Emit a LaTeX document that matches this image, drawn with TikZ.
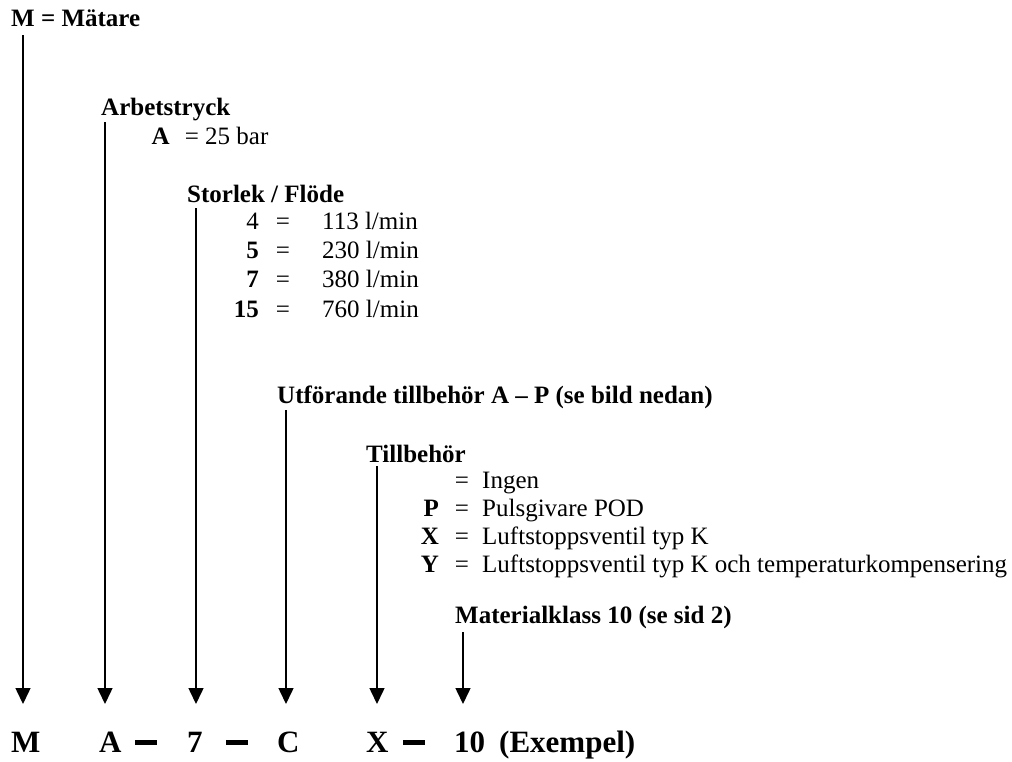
\documentclass[tikz,border=0pt]{standalone}
\usepackage{fontspec}
\setmainfont{Liberation Serif}
\usetikzlibrary{arrows.meta}

\begin{document}
\begin{tikzpicture}[x=1pt,y=-1pt,
    txt/.style={inner sep=0pt,anchor=base west,font=\fontsize{25}{30}\selectfont},
    head/.style={txt,font=\fontsize{25}{30}\selectfont\bfseries},
    key/.style={txt,anchor=base east,font=\fontsize{25}{30}\selectfont\bfseries},
    eq/.style={txt,anchor=base},
    code/.style={inner sep=0pt,anchor=base west,font=\fontsize{31}{36}\selectfont\bfseries},
    arr/.style={line width=1.5pt,-{Triangle[width=15pt,length=16pt]}}]
    \useasboundingbox (0,0) rectangle (1012,761);

    % rubriker
    \node[head] (hM) at (11,26) {M = Mätare};
    \node[head] (hA) at (101,115) {Arbetstryck};
    \node[head] (hS) at (187,202) {Storlek / Flöde};
    \node[head] (hU) at (277,403) {Utförande tillbehör A -- P (se bild nedan)};
    \node[head] (hT) at (366,462) {Tillbehör};
    \node[head] (hK) at (455,623) {Materialklass 10 (se sid 2)};

    % arbetstryck
    \node[key] (kA) at (170,144) {A};
    \node[eq] (qA) at (192,144) {=};
    \node[txt] (vA) at (205,144) {25 bar};

    % storlek / flöde
    \node[key,font=\fontsize{25}{30}\selectfont] (k4) at (259,229) {4};
    \node[eq] (q4) at (283,229) {=};
    \node[txt] (v4) at (322,229) {113 l/min};
    \node[key] (k5) at (259,258.3) {5};
    \node[eq] (q5) at (283,258.3) {=};
    \node[txt] (v5) at (322,258.3) {230 l/min};
    \node[key] (k7) at (259,287.6) {7};
    \node[eq] (q7) at (283,287.6) {=};
    \node[txt] (v7) at (322,287.6) {380 l/min};
    \node[key] (k15) at (259,317) {15};
    \node[eq] (q15) at (283,317) {=};
    \node[txt] (v15) at (322,317) {760 l/min};

    % tillbehör
    \node[eq] (qI) at (462,488) {=};
    \node[txt] (vI) at (482,488) {Ingen};
    \node[key] (kP) at (439,516) {P};
    \node[eq] (qP) at (462,516) {=};
    \node[txt] (vP) at (482,516) {Pulsgivare POD};
    \node[key] (kX) at (439,544) {X};
    \node[eq] (qX) at (462,544) {=};
    \node[txt] (vX) at (482,544) {Luftstoppsventil typ K};
    \node[key] (kY) at (439,572) {Y};
    \node[eq] (qY) at (462,572) {=};
    \node[txt] (vY) at (482,572) {Luftstoppsventil typ K och temperaturkompensering};

    % beteckning
    \node[code] (cM) at (11,752) {M};
    \node[code] (cA) at (99,752) {A};
    \node[inner sep=0pt] (d1) at (146,742) {\rule{22pt}{5pt}};
    \node[code] (c7) at (187,752) {7};
    \node[inner sep=0pt] (d2) at (237,742) {\rule{22pt}{5pt}};
    \node[code] (cC) at (277,752) {C};
    \node[code] (cX) at (366,752) {X};
    \node[inner sep=0pt] (d3) at (414,742) {\rule{22pt}{5pt}};
    \node[code] (c10) at (454,752) {10};
    \node[code] (cE) at (499,752) {(Exempel)};

    % pilar
    \coordinate (sM) at (23,35);    \coordinate (eM) at (23,704);
    \coordinate (sA) at (105,122);  \coordinate (eA) at (105,704);
    \coordinate (sS) at (196,208);  \coordinate (eS) at (196,704);
    \coordinate (sU) at (286,410);  \coordinate (eU) at (286,704);
    \coordinate (sT) at (377,466);  \coordinate (eT) at (377,704);
    \coordinate (sK) at (463,632);  \coordinate (eK) at (463,704);
    \draw[arr] (sM) -- (eM);
    \draw[arr] (sA) -- (eA);
    \draw[arr] (sS) -- (eS);
    \draw[arr] (sU) -- (eU);
    \draw[arr] (sT) -- (eT);
    \draw[arr] (sK) -- (eK);
\end{tikzpicture}
\end{document}
